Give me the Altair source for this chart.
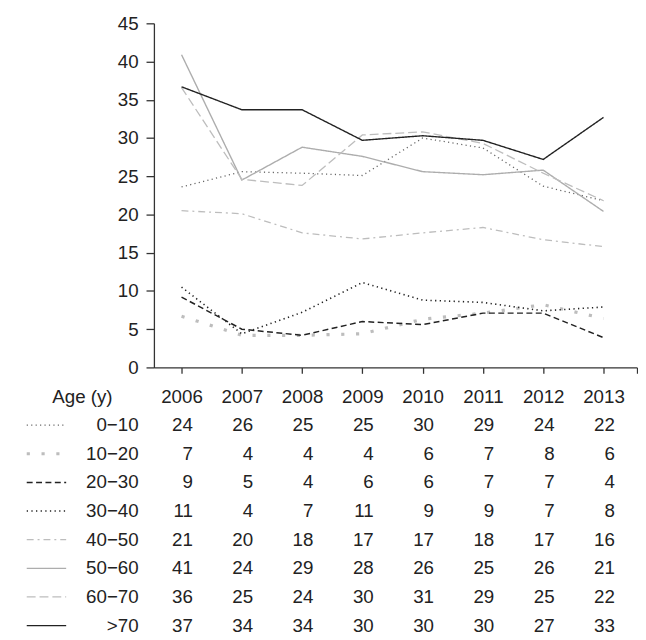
import altair as alt
import pandas as pd

years = [2006, 2007, 2008, 2009, 2010, 2011, 2012, 2013]
ages = ["0−10", "10−20", "20−30", "30−40", "40−50", "50−60", "60−70", ">70"]

# line values
v_0_10 = [23.6, 25.6, 25.4, 25.1, 30.0, 28.7, 23.7, 21.8]
v_10_20 = [6.7, 4.2, 4.2, 4.4, 6.3, 7.1, 8.2, 6.4]
v_20_30 = [9.2, 5.0, 4.2, 6.0, 5.6, 7.1, 7.1, 3.9]
v_30_40 = [10.5, 4.4, 7.2, 11.1, 8.8, 8.5, 7.4, 7.9]
v_40_50 = [20.5, 20.1, 17.6, 16.8, 17.6, 18.3, 16.7, 15.8]
v_50_60 = [40.9, 24.5, 28.8, 27.6, 25.6, 25.2, 25.8, 20.4]
v_60_70 = [36.6, 24.6, 23.8, 30.4, 30.8, 29.3, 25.4, 21.8]
v_70 = [36.7, 33.7, 33.7, 29.7, 30.3, 29.7, 27.2, 32.7]

# table values (printed)
t_0_10 = [24, 26, 25, 25, 30, 29, 24, 22]
t_10_20 = [7, 4, 4, 4, 6, 7, 8, 6]
t_20_30 = [9, 5, 4, 6, 6, 7, 7, 4]
t_30_40 = [11, 4, 7, 11, 9, 9, 7, 8]
t_40_50 = [21, 20, 18, 17, 17, 18, 17, 16]
t_50_60 = [41, 24, 29, 28, 26, 25, 26, 21]
t_60_70 = [36, 25, 24, 30, 31, 29, 25, 22]
t_70 = [37, 34, 34, 30, 30, 30, 27, 33]

series = [v_0_10, v_10_20, v_20_30, v_30_40, v_40_50, v_50_60, v_60_70, v_70]
tables = [t_0_10, t_10_20, t_20_30, t_30_40, t_40_50, t_50_60, t_60_70, t_70]

# styles
colors = ["#666666", "#bdbdbd", "#222222", "#222222", "#bdbdbd", "#adadad", "#bdbdbd", "#222222"]
dashes = [[1.2, 3.3], [3.2, 11.8], [6, 3.5], [1.3, 3.4], [7, 4, 2, 4], [1, 0], [9, 4], [1, 0]]
widths = [1.3, 3.2, 1.5, 1.6, 1.3, 1.4, 1.3, 1.4]

rows = []
for a, vals, tv in zip(ages, series, tables):
    for y, v, t in zip(years, vals, tv):
        rows.append({"age": a, "year": y, "value": v, "label": str(t)})
df = pd.DataFrame(rows)
leg_df = pd.DataFrame({"age": ages})

FONT = "Liberation Sans"
xdom = [2005.542, 2013.556]

color_enc = alt.Color("age:N", scale=alt.Scale(type="ordinal", domain=ages, range=colors), legend=None)
dash_enc = alt.StrokeDash("age:N", scale=alt.Scale(type="ordinal", domain=ages, range=dashes), legend=None)
width_enc = alt.StrokeWidth("age:N", scale=alt.Scale(type="ordinal", domain=ages, range=widths), legend=None)

top = alt.Chart(df).mark_line(strokeCap="butt").encode(
    x=alt.X("year:Q",
            scale=alt.Scale(domain=xdom, nice=False, zero=False),
            axis=alt.Axis(values=years + [xdom[1]], format="d",
                          labelExpr="datum.value > 2013.3 ? '' : datum.label",
                          tickSize=6, labelPadding=15, labelFlush=False,
                          labelOverlap=False, grid=False,
                          title="Age (y)", titleX=-73, titleY=30,
                          titleAlign="center", titleBaseline="middle",
                          titleFontWeight="normal", titleFontSize=19,
                          titleFont=FONT, titleColor="#222222")),
    y=alt.Y("value:Q",
            scale=alt.Scale(domain=[0, 45], nice=False),
            axis=alt.Axis(values=list(range(0, 50, 5)), tickSize=8,
                          labelPadding=8, grid=False, title=None)),
    color=color_enc,
    strokeDash=dash_enc,
    strokeWidth=width_enc,
).properties(width=490, height=349)

nums = alt.Chart(df).mark_text(align="right", dx=11.5, fontSize=19, font=FONT,
                               color="#222222", baseline="middle").encode(
    x=alt.X("year:Q", scale=alt.Scale(domain=xdom, nice=False, zero=False), axis=None),
    y=alt.Y("age:N", scale=alt.Scale(domain=ages),
            axis=alt.Axis(title=None, ticks=False, domain=False, labelPadding=16,
                          labelFontSize=19, labelFont=FONT, labelColor="#222222")),
    text="label:N",
)

legend_rules = alt.Chart(leg_df).mark_rule(strokeCap="butt").encode(
    x=alt.value(-129), x2=alt.value(-89),
    y=alt.Y("age:N", scale=alt.Scale(domain=ages)),
    color=color_enc,
    strokeDash=dash_enc,
    strokeWidth=width_enc,
)

table = alt.layer(legend_rules, nums).properties(width=490, height=232.4)

chart = alt.vconcat(top, table, spacing=4).resolve_scale(
    x="independent", y="independent"
).properties(
    padding={"left": 17, "top": 2, "right": 0, "bottom": 0}
).configure_view(stroke=None).configure_axis(
    domainColor="#333333", tickColor="#333333", domainWidth=1.3, tickWidth=1.3,
    labelColor="#222222", labelFont=FONT, labelFontSize=19,
).configure_concat(spacing=4)

chart.save("out.html", embed_options={"renderer": "svg", "actions": False})
